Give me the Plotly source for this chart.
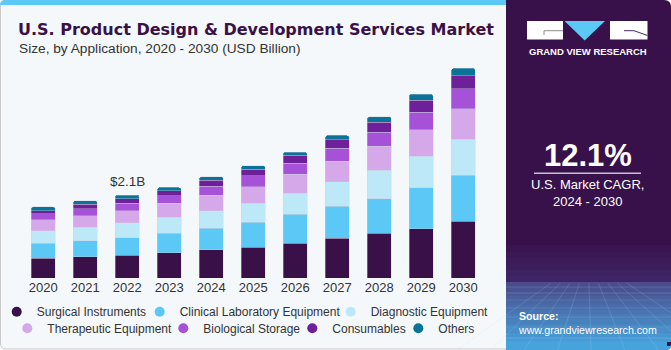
import plotly.graph_objects as go

# ---------------- data (USD billion) ----------------
years = ['2020', '2021', '2022', '2023', '2024', '2025', '2026', '2027', '2028', '2029', '2030']
surgical     = [0.50, 0.53, 0.57, 0.64, 0.71, 0.78, 0.88, 1.00, 1.13, 1.24, 1.43]
clinical_lab = [0.38, 0.41, 0.45, 0.49, 0.54, 0.62, 0.72, 0.81, 0.87, 1.03, 1.16]
diagnostic   = [0.31, 0.34, 0.37, 0.40, 0.45, 0.48, 0.53, 0.62, 0.71, 0.80, 0.91]
therapeutic  = [0.28, 0.29, 0.30, 0.35, 0.38, 0.42, 0.48, 0.51, 0.61, 0.66, 0.76]
biological   = [0.15, 0.17, 0.19, 0.19, 0.23, 0.27, 0.28, 0.33, 0.35, 0.45, 0.51]
consumables  = [0.08, 0.12, 0.12, 0.13, 0.15, 0.17, 0.20, 0.21, 0.25, 0.30, 0.33]
others       = [0.09, 0.09, 0.09, 0.08, 0.09, 0.09, 0.08, 0.11, 0.14, 0.15, 0.18]

series_names = ['Surgical Instruments', 'Clinical Laboratory Equipment', 'Diagnostic Equipment',
                'Therapeutic Equipment', 'Biological Storage', 'Consumables', 'Others']
series_values = [surgical, clinical_lab, diagnostic, therapeutic, biological, consumables, others]
series_colors = ['#3a1048', '#5bc8f5', '#bde8f8', '#d5a8ea', '#a552d8', '#6e1f9a', '#0b7398']

highlight_year = '2022'
highlight_label = '$2.1B'
cagr_text = '12.1%'

# ---------------- geometry helpers ----------------
W, H = 671, 350
L, R, T, B = 0, 165, 60, 72
PW, PH = W - L - R, H - T - B
CAT_PX = 42.0          # pixel width of one category
FIRST_CENTER = 43.2    # pixel x of first bar centre


def px(x):
    return (x - L) / PW


def py(y):
    return (H - B - y) / PH


def path_px(pts, close=True):
    s = ''
    for cmd, *xy in pts:
        if cmd in ('M', 'L'):
            s += f'{cmd}{px(xy[0]):.5f},{py(xy[1]):.5f} '
        elif cmd == 'Q':
            s += f'Q{px(xy[0]):.5f},{py(xy[1]):.5f} {px(xy[2]):.5f},{py(xy[3]):.5f} '
    return s + ('Z' if close else '')


fig = go.Figure()

for name, vals, col in zip(series_names, series_values, series_colors):
    fig.add_trace(go.Bar(
        x=years, y=vals, name=name, marker_color=col,
        marker_line=dict(color='rgba(205,205,220,0.55)', width=0.7),
        showlegend=False, hoverinfo='x+y+name'))

# legend-only circle markers (two rows)
row1_widths = [98, 146, 118]
row2_widths = [111, 84, 61, 40]
for i, (name, col) in enumerate(zip(series_names, series_colors)):
    row = 'legend' if i < 3 else 'legend2'
    lw = row1_widths[i] if i < 3 else row2_widths[i - 3]
    fig.add_trace(go.Scatter(
        x=[years[0]], y=[None], mode='markers', name=name,
        marker=dict(color=col, size=10, symbol='circle'),
        legend=row, legendwidth=lw, showlegend=True, hoverinfo='skip'))

totals = [sum(v[i] for v in series_values) for i in range(len(years))]
hi = years.index(highlight_year)

shapes = []
# outer left panel background with border
shapes.append(dict(type='path', xref='paper', yref='paper', layer='below',
                   path=path_px([('M', 6, 0.5), ('L', 520, 0.5), ('L', 520, 349), ('L', 6, 349),
                                 ('Q', 0.5, 349, 0.5, 343), ('L', 0.5, 6), ('Q', 0.5, 0.5, 6, 0.5)]),
                   fillcolor='#f4f8fb', line=dict(color='#c9c9c9', width=1)))
# top blue stripe
shapes.append(dict(type='path', xref='paper', yref='paper', layer='below',
                   path=path_px([('M', 5, 0), ('L', 520, 0), ('L', 520, 5), ('L', 0, 5),
                                 ('Q', 0, 0, 5, 0)]),
                   fillcolor='#5bc8f5', line=dict(width=0)))
# right panel
shapes.append(dict(type='path', xref='paper', yref='paper', layer='below',
                   path=path_px([('M', 506, 0), ('L', 664, 0), ('Q', 671, 0, 671, 7), ('L', 671, 344),
                                 ('Q', 671, 350, 665, 350), ('L', 506, 350)]),
                   fillcolor='#38114a', line=dict(width=0)))


def hexmix(c1, c2, t):
    a = [int(c1[i:i + 2], 16) for i in (1, 3, 5)]
    b = [int(c2[i:i + 2], 16) for i in (1, 3, 5)]
    return '#' + ''.join(f'{round(a[k] + (b[k] - a[k]) * t):02x}' for k in range(3))


# soft gradient above horizon
n1 = 6
for k in range(n1):
    y0 = 245 + k * (282 - 245) / n1
    y1 = 245 + (k + 1) * (282 - 245) / n1
    shapes.append(dict(type='rect', xref='paper', yref='paper', layer='below',
                       x0=px(506), x1=px(671), y0=py(y0), y1=py(y1 + 0.5),
                       fillcolor=hexmix('#38114a', '#3f2566', (k + 1) / n1), line=dict(width=0)))
# grid floor gradient
n2 = 14
for k in range(n2):
    y0 = 282 + k * (346 - 282) / n2
    y1 = 282 + (k + 1) * (346 - 282) / n2
    shapes.append(dict(type='rect', xref='paper', yref='paper', layer='below',
                       x0=px(506), x1=px(671 if k < n2 - 1 else 667), y0=py(y0), y1=py(y1 + 0.5),
                       fillcolor=hexmix('#4a4c8c', '#46a3dc', k / (n2 - 1)), line=dict(width=0)))
shapes.append(dict(type='path', xref='paper', yref='paper', layer='below',
                   path=path_px([('M', 506, 346), ('L', 671, 346), ('Q', 671, 350, 666, 350), ('L', 506, 350)]),
                   fillcolor='#46a3dc', line=dict(width=0)))
# faint grid lines on floor
for k in range(9):
    xx = 506 + k * 21
    shapes.append(dict(type='line', xref='paper', yref='paper', layer='below',
                       x0=px(588 + (xx - 588) * 0.45), y0=py(283), x1=px(xx - (588 - xx) * 0.6), y1=py(350),
                       line=dict(color='rgba(190,215,245,0.22)', width=0.8)))
for yy in [287, 293, 300, 308, 317, 327, 338]:
    shapes.append(dict(type='line', xref='paper', yref='paper', layer='below',
                       x0=px(506), y0=py(yy), x1=px(671), y1=py(yy),
                       line=dict(color='rgba(190,215,245,0.22)', width=0.8)))

# logo
shapes.append(dict(type='rect', xref='paper', yref='paper', x0=px(527), x1=px(563), y0=py(39.5), y1=py(21),
                   fillcolor='#ffffff', line=dict(width=0)))
shapes.append(dict(type='path', xref='paper', yref='paper',
                   path=path_px([('M', 544, 35), ('L', 544, 30.7), ('L', 563, 30.7)], close=False),
                   line=dict(color='#8a8a8a', width=1)))
shapes.append(dict(type='path', xref='paper', yref='paper',
                   path=path_px([('M', 564.5, 21), ('L', 605, 21), ('L', 584.7, 40.5)]),
                   fillcolor='#5bc8f5', line=dict(width=0)))
shapes.append(dict(type='rect', xref='paper', yref='paper', x0=px(610), x1=px(647.5), y0=py(39.5), y1=py(21),
                   fillcolor='#ffffff', line=dict(width=0)))
shapes.append(dict(type='path', xref='paper', yref='paper',
                   path=path_px([('M', 624, 30.7), ('L', 634, 30.7), ('L', 647.5, 35.5)], close=False),
                   line=dict(color='#4a2a5a', width=1)))
# CAGR underline
shapes.append(dict(type='line', xref='paper', yref='paper', x0=px(534), x1=px(641), y0=py(173.3), y1=py(173.3),
                   line=dict(color='#c8c0d0', width=1.5)))

FONT = 'Liberation Sans, Arial, sans-serif'
TITLE_FONT = 'DejaVu Sans, Liberation Sans, Arial, sans-serif'
annotations = [
    dict(text='<b>U.S. Product Design &amp; Development Services Market</b>', xref='paper', yref='paper',
         x=px(16), y=py(29), xanchor='left', yanchor='middle', showarrow=False,
         font=dict(family=TITLE_FONT, size=16.0, color='#3a1048')),
    dict(text='Size, by Application, 2020 - 2030 (USD Billion)', xref='paper', yref='paper',
         x=px(16.5), y=py(48.5), xanchor='left', yanchor='middle', showarrow=False,
         font=dict(family=FONT, size=13.7, color='#333333')),
    dict(text=highlight_label, x=hi, y=totals[hi], xref='x', yref='y',
         yanchor='middle', yshift=14, showarrow=False,
         font=dict(family=FONT, size=13.5, color='#333333')),
    dict(text='<b>GRAND VIEW RESEARCH</b>', xref='paper', yref='paper', x=px(587.5), y=py(51.5),
         xanchor='center', yanchor='middle', showarrow=False,
         font=dict(family=FONT, size=9.5, color='#ffffff')),
    dict(text='<b>' + cagr_text + '</b>', xref='paper', yref='paper', x=px(587.5), y=py(155),
         xanchor='center', yanchor='middle', showarrow=False,
         font=dict(family=FONT, size=31, color='#ffffff')),
    dict(text='U.S. Market CAGR,<br>2024 - 2030', xref='paper', yref='paper', x=px(587.5), y=py(193),
         xanchor='center', yanchor='middle', showarrow=False, align='center',
         font=dict(family=FONT, size=13, color='#ffffff')),
    dict(text='<b>Source:</b><br>www.grandviewresearch.com', xref='paper', yref='paper', x=px(516), y=py(323),
         xanchor='left', yanchor='middle', showarrow=False, align='left',
         font=dict(family=FONT, size=10.6, color='#ffffff')),
]

legend_common = dict(orientation='h', bgcolor='rgba(0,0,0,0)', borderwidth=0,
                     font=dict(family=FONT, size=12, color='#333333'),
                     xanchor='left', yanchor='middle', itemclick=False, itemdoubleclick=False,
                     traceorder='normal', tracegroupgap=0)

x_lo = -FIRST_CENTER / CAT_PX
x_hi = x_lo + PW / CAT_PX

fig.update_layout(
    width=W, height=H,
    margin=dict(l=L, r=R, t=T, b=B, pad=0, autoexpand=False),
    paper_bgcolor='#ffffff', plot_bgcolor='rgba(0,0,0,0)',
    barmode='stack', bargap=0.43, barcornerradius=2,
    xaxis=dict(type='category', categoryorder='array', categoryarray=years,
               range=[x_lo, x_hi], autorange=False,
               showgrid=False, zeroline=False, showline=False, ticks='',
               tickfont=dict(family=FONT, size=13, color='#333333'), fixedrange=True),
    yaxis=dict(range=[0, PH / 39.7], autorange=False, visible=False, showgrid=False,
               zeroline=False, fixedrange=True),
    legend=dict(x=px(-3.3), y=py(311.7), **legend_common),
    legend2=dict(x=px(7.3), y=py(328.3), **legend_common),
    shapes=shapes, annotations=annotations,
    showlegend=True,
)

fig.write_html('out.html')
